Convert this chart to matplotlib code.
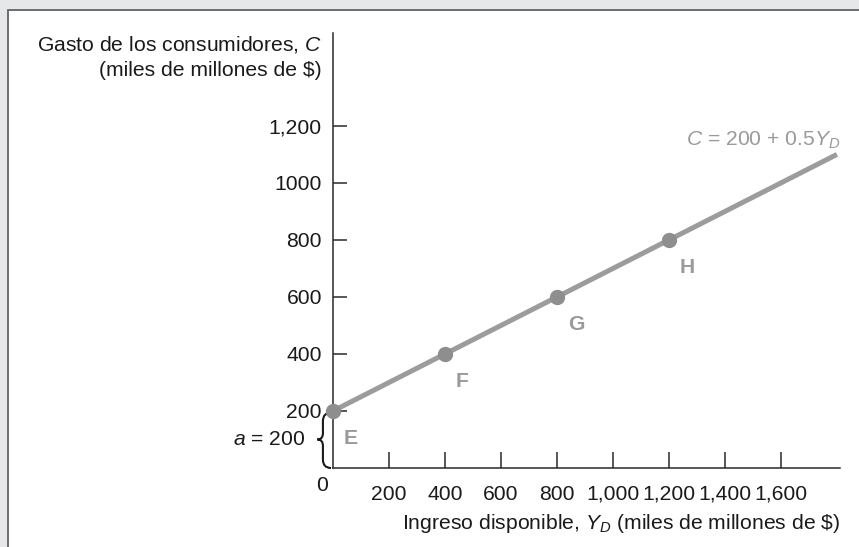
import numpy as np
from matplotlib import pyplot as plt
from matplotlib.patches import Rectangle, PathPatch
from matplotlib.path import Path

plt.rcParams['font.family'] = ['Liberation Sans', 'DejaVu Sans']
plt.rcParams['mathtext.fontset'] = 'custom'
plt.rcParams['mathtext.rm'] = 'Liberation Sans'
plt.rcParams['mathtext.it'] = 'Liberation Sans:italic'

# data
yd_line = [0, 1800]
intercept = 200
mpc = 0.5
point_x = [0, 400, 800, 1200]
point_y = [200, 400, 600, 800]
point_names = ['E', 'F', 'G', 'H']
xticks = [200, 400, 600, 800, 1000, 1200, 1400, 1600]
xtick_labels = ['200', '400', '600', '800', '1,000', '1,200', '1,400', '1,600']
yticks = [200, 400, 600, 800, 1000, 1200]
ytick_labels = ['200', '400', '600', '800', '1000', '1,200']

FS = 15.2
W, H = 859, 547
fig = plt.figure(figsize=(W / 100, H / 100), dpi=100)
fig.patch.set_facecolor('#e6e7e9')
fig.patches.append(Rectangle((8 / W, -0.05), 1.1, 1 - 10 / H + 0.05, transform=fig.transFigure,
                             facecolor='white', edgecolor='#6d6d6d', linewidth=1.4, zorder=-10))

ax = fig.add_axes([333 / W, 79 / H, 507 / W, 435 / H])
ax.set_facecolor('none')
ax.set_xlim(0, 1811)
ax.set_ylim(0, 1526)
for s in ['top', 'right']:
    ax.spines[s].set_visible(False)
for s in ['left', 'bottom']:
    ax.spines[s].set_color('#2a2a2a')
    ax.spines[s].set_linewidth(1.1)

ax.set_xticks(xticks)
ax.set_xticklabels(xtick_labels)
ax.set_yticks(yticks)
ax.set_yticklabels(ytick_labels)
ax.tick_params(axis='x', direction='in', length=11.5, width=1.1, color='#2a2a2a', pad=12,
               labelsize=FS, labelcolor='#1a1a1a')
ax.tick_params(axis='y', direction='in', length=10, width=1.1, color='#2a2a2a', pad=8,
               labelsize=FS, labelcolor='#1a1a1a')

yd = np.array(yd_line)
ax.plot(yd, intercept + mpc * yd, color='#9c9c9c', linewidth=3.6, solid_capstyle='butt',
        clip_on=False, zorder=3)
ax.plot(point_x, point_y, 'o', color='#8e8e8e', markersize=10, clip_on=False, zorder=4)
for px, py, name in zip(point_x, point_y, point_names):
    ax.annotate(name, (px, py), xytext=(8, -13), textcoords='offset points',
                ha='left', va='top', fontsize=FS, fontweight='bold', color='#9a9a9a')

ax.text(1811, 1130, r'$C$ = 200 + 0.5$Y_D$', ha='right', va='baseline', fontsize=FS,
        color='#9a9a9a')

# origin label
ax.annotate('0', (0, 0), xytext=(-8, -6), textcoords='offset points', ha='center', va='top',
            fontsize=FS, color='#1a1a1a', annotation_clip=False)

# axis titles
ax.annotate('Gasto de los consumidores, $C$\n(miles de millones de \\$)', (0, 1),
            xycoords='axes fraction', xytext=(-8, -1), textcoords='offset points',
            ha='right', va='top', fontsize=FS, color='#1a1a1a', linespacing=1.35,
            multialignment='right')
ax.annotate('Ingreso disponible, $Y_D$ (miles de millones de \\$)', (1, 0),
            xycoords='axes fraction', xytext=(0, -32), textcoords='offset points',
            ha='right', va='top', fontsize=FS, color='#1a1a1a')

# brace for the intercept
x_end, x_mid, x_tip = -7, -36, -56
top, mid = intercept - 6, intercept * 0.5
codes = [Path.MOVETO, Path.CURVE3, Path.CURVE3, Path.LINETO, Path.CURVE3, Path.CURVE3,
         Path.MOVETO, Path.CURVE3, Path.CURVE3, Path.LINETO, Path.CURVE3, Path.CURVE3]
verts = [(x_end, top), (x_mid, top), (x_mid, top - 30),
         (x_mid, mid + 22), (x_mid, mid), (x_tip, mid),
         (x_tip, mid), (x_mid, mid), (x_mid, mid - 22),
         (x_mid, 30), (x_mid, 0), (x_end, 0)]
ax.add_patch(PathPatch(Path(verts, codes), facecolor='none', edgecolor='#1a1a1a', linewidth=1.5,
                       clip_on=False))
ax.text(-100, mid, '$a$ = 200', ha='right', va='center', fontsize=FS, color='#1a1a1a')

fig.savefig('out.png', dpi=100, facecolor=fig.get_facecolor())
